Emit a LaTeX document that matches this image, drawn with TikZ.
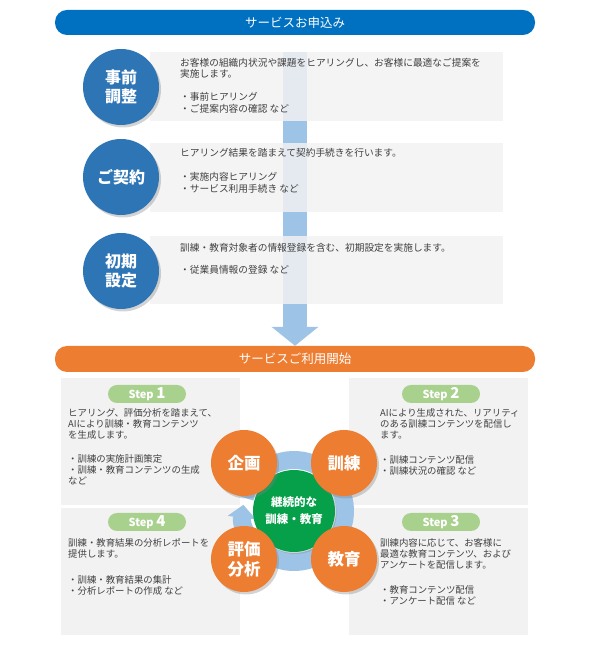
\documentclass[tikz,border=0pt]{standalone}
\usepackage{fontspec}
\newfontfamily\jp{Noto Sans CJK JP}
\usetikzlibrary{shadows,arrows.meta}
\definecolor{barblue}{HTML}{0070C0}
\definecolor{cblue}{HTML}{2E75B6}
\definecolor{orng}{HTML}{ED7D31}
\definecolor{lblue}{HTML}{9DC3E6}
\definecolor{boxgray}{HTML}{F2F2F2}
\definecolor{pillgreen}{HTML}{A9D18E}
\definecolor{grn}{HTML}{07A04A}
\definecolor{txt}{HTML}{404040}
\begin{document}
\begin{tikzpicture}[x=1pt,y=1pt,
  bar/.style={rounded corners=12pt, minimum width=480pt, minimum height=25pt, text=white,
    font=\jp\fontsize{12.5}{14}\selectfont, inner sep=0},
  graybox/.style={fill=boxgray, fill opacity=0.85, draw=none, inner sep=0, anchor=south west},
  stepbox/.style={fill=boxgray, draw=none, inner sep=0, anchor=south west, minimum width=179pt, minimum height=127pt},
  bcirc/.style={circle, fill=cblue, minimum size=76pt, inner sep=0, text=white, align=center,
    font=\jp\bfseries\fontsize{16}{19}\selectfont,
    drop shadow={shadow xshift=2pt,shadow yshift=-2.5pt,opacity=0.35}},
  ocirc/.style={circle, fill=orng, minimum size=66pt, inner sep=0, text=white, align=center,
    font=\jp\bfseries\fontsize{16.5}{20}\selectfont,
    drop shadow={shadow xshift=2pt,shadow yshift=-2.5pt,opacity=0.35}},
  bodytext/.style={anchor=north west, inner sep=0, align=left, text=txt,
    font=\jp\fontsize{9.7}{11.5}\selectfont},
  steptext/.style={anchor=north west, inner sep=0, align=left, text=txt,
    font=\jp\fontsize{9.4}{11}\selectfont},
  pill/.style={fill=pillgreen, rounded corners=9pt, minimum width=78pt, minimum height=18pt,
    inner sep=0, text=white, font=\jp\bfseries\fontsize{11}{12}\selectfont}
]
\useasboundingbox (0,0) rectangle (590,645);

% bars
\node[bar, fill=barblue] (topbar) at (295,622.5) {サービスお申込み};
\node[bar, fill=orng, minimum height=26pt] (sbar) at (295,286) {サービスご利用開始};

% big arrow
\coordinate (astart) at (295,593);
\draw[lblue, line width=24pt, -{Triangle[width=46pt,length=19pt]}] (astart) -- (sbar.north);

% top gray boxes
\node[graybox, minimum width=353pt, minimum height=69pt] (b1) at (150,524) {};
\node[graybox, minimum width=353pt, minimum height=69pt] (b2) at (150,433) {};
\node[graybox, minimum width=353pt, minimum height=68pt] (b3) at (150,341) {};

% top circles
\node[bcirc] (c1) at (121,558) {事前\\調整};
\node[bcirc] (c2) at (121,468) {ご契約};
\node[bcirc] (c3) at (121,374) {初期\\設定};

% top texts
\node[bodytext] (t1) at (180,587) {お客様の組織内状況や課題をヒアリングし、お客様に最適なご提案を\\実施します。\\[11.5pt]・事前ヒアリング\\・ご提案内容の確認 など};
\node[bodytext] (t2) at (180,497) {ヒアリング結果を踏まえて契約手続きを行います。\\[13pt]・実施内容ヒアリング\\・サービス利用手続き など};
\node[bodytext] (t3) at (180,402) {訓練・教育対象者の情報登録を含む、初期設定を実施します。\\[10.5pt]・従業員情報の登録 など};

% step boxes
\node[stepbox] (sb1) at (61,140) {};
\node[stepbox] (sb2) at (349,140) {};
\node[stepbox] (sb4) at (61,10) {};
\node[stepbox] (sb3) at (349,10) {};

\node[pill] (p1) at (147,251) {Step {\fontsize{15}{15}\selectfont 1}};
\node[pill] (p2) at (441,251) {Step {\fontsize{15}{15}\selectfont 2}};
\node[pill] (p4) at (147,123) {Step {\fontsize{15}{15}\selectfont 4}};
\node[pill] (p3) at (441,123) {Step {\fontsize{15}{15}\selectfont 3}};

\node[steptext] (s1) at (68,236.5) {ヒアリング、評価分析を踏まえて、\\AIにより訓練・教育コンテンツ\\を生成します。\\[13pt]・訓練の実施計画策定\\・訓練・教育コンテンツの生成\\など};
\node[steptext] (s2) at (380,236.5) {AIにより生成された、リアリティ\\のある訓練コンテンツを配信し\\ます。\\[14pt]・訓練コンテンツ配信\\・訓練状況の確認 など};
\node[steptext] (s4) at (68,106.5) {訓練・教育結果の分析レポートを\\提供します。\\[15pt]・訓練・教育結果の集計\\・分析レポートの作成 など};
\node[steptext] (s3) at (380,106.5) {訓練内容に応じて、お客様に\\最適な教育コンテンツ、および\\アンケートを配信します。\\[14pt]・教育コンテンツ配信\\・アンケート配信 など};

% cycle
\coordinate (ctr) at (294,134);
\draw[lblue, line width=18pt, -{Triangle[width=28pt,length=13pt]}] (ctr) ++(165:51) arc[start angle=165, end angle=-187, radius=51];
\node[circle, fill=grn, minimum size=82pt, inner sep=0, text=white, align=center,
  font=\jp\bfseries\fontsize{11.5}{17}\selectfont,
  drop shadow={shadow xshift=1.5pt,shadow yshift=-2pt,opacity=0.3}] (core) at (ctr) {継続的な\\訓練・教育};
\node[ocirc] (o1) at (244,182) {企画};
\node[ocirc] (o2) at (344,182) {訓練};
\node[ocirc] (o3) at (344,86) {教育};
\node[ocirc] (o4) at (244,86) {評価\\分析};
\end{tikzpicture}
\end{document}
